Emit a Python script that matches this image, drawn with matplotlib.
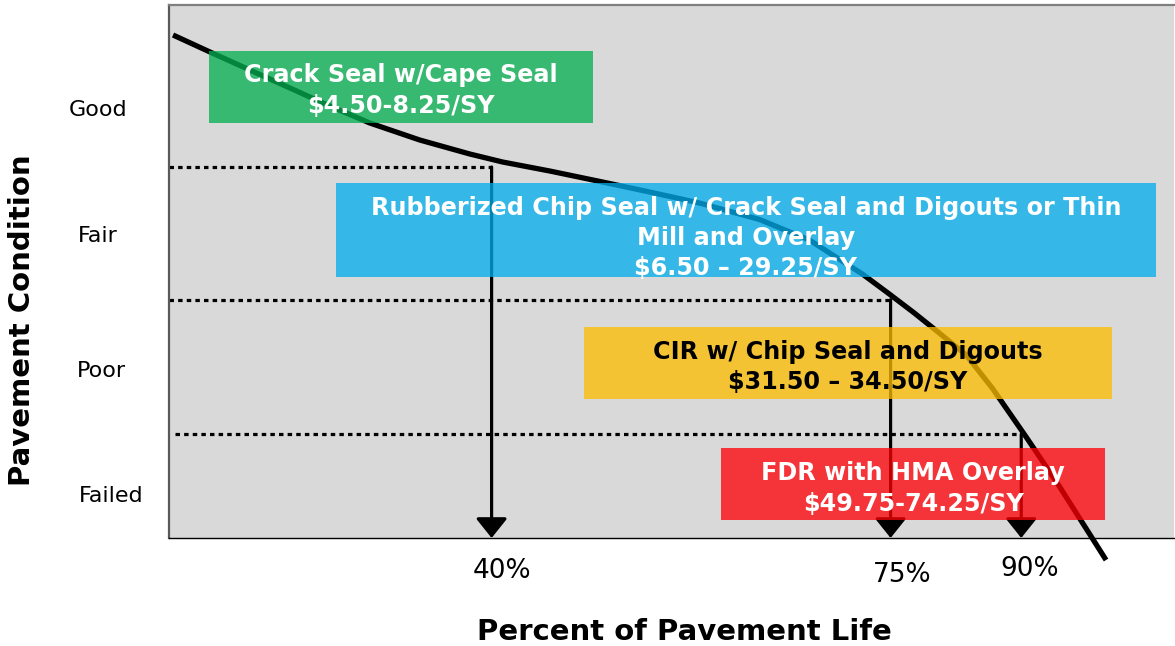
import matplotlib
matplotlib.use("Agg")
import matplotlib.pyplot as plt
from matplotlib.patches import Rectangle

# ---------------- data ----------------
# deterioration curve (x: life scale 0-100 across the plot, y: condition index 0-100)
curve_x = [0.40, 4.08, 8.05, 12.03, 16.00, 19.98, 24.95, 29.92, 33.20, 37.87, 43.14,
           47.81, 52.78, 58.75, 63.72, 68.99, 71.67, 74.16, 76.64, 79.32, 81.91,
           85.29, 88.57, 93.24]
curve_y = [94.37, 91.18, 87.80, 84.43, 81.05, 77.86, 74.67, 72.05, 70.54, 68.86, 66.79,
           64.92, 62.85, 59.76, 55.91, 49.53, 45.78, 42.21, 38.46, 34.33, 28.14,
           18.95, 9.76, -4.13]

condition_labels = ["Good", "Fair", "Poor", "Failed"]
condition_label_y = [80.3, 56.7, 31.3, 7.9]

threshold_levels = [69.6, 44.7, 19.5]      # Good/Fair, Fair/Poor, Poor/Failed
life_marks = [32.1, 71.8, 84.8]             # where the arrows drop
life_labels = ["40%", "75%", "90%"]

treatments = [
    "Crack Seal w/Cape Seal\n$4.50-8.25/SY",
    "Rubberized Chip Seal w/ Crack Seal and Digouts or Thin\nMill and Overlay\n$6.50 \u2013 29.25/SY",
    "CIR w/ Chip Seal and Digouts\n$31.50 \u2013 34.50/SY",
    "FDR with HMA Overlay\n$49.75-74.25/SY",
]

# ---------------- figure ----------------
W, H = 1175, 646
fig = plt.figure(figsize=(W / 100, H / 100), dpi=100)
ax = fig.add_axes([169 / W, 1 - 538 / H, (1174 - 169) / W, (538 - 5) / H])
ax.set_facecolor("#D9D9D9")
ax.set_xlim(0, 100)
ax.set_ylim(0, 100)
ax.set_xticks([])
ax.set_yticks([])
ax.spines["left"].set_color("#595959")
ax.spines["left"].set_linewidth(1.6)
ax.spines["top"].set_color("#7f7f7f")
ax.spines["top"].set_linewidth(1.6)
ax.spines["bottom"].set_color("black")
ax.spines["bottom"].set_linewidth(1.0)
ax.spines["right"].set_visible(False)

# dotted threshold lines
dot_start = [0, 0, 0.6]
for y0, x1, xs in zip(threshold_levels, life_marks, dot_start):
    ax.plot([xs, x1], [y0, y0], color="black", lw=2.3,
            linestyle=(0, (1.4, 1.3)), dash_capstyle="butt", zorder=2)

# arrows
for y0, x1 in zip(threshold_levels, life_marks):
    ax.annotate("", xy=(x1, 0), xytext=(x1, y0),
                arrowprops=dict(arrowstyle="-|>,head_length=0.5,head_width=0.4",
                                mutation_scale=24, lw=2.3, color="black",
                                shrinkA=0, shrinkB=0),
                zorder=3, annotation_clip=False)

# curve
ax.plot(curve_x, curve_y, color="black", lw=3.8, solid_capstyle="butt",
        solid_joinstyle="round", clip_on=False, zorder=3)

# treatment boxes (x0, x1, y0, y1), colors, text colors, text offsets
boxes = [(3.98, 42.15, 77.86, 91.37), (16.6, 98.2, 49.0, 66.6),
         (41.25, 93.84, 26.1, 39.6), (54.97, 93.14, 3.38, 16.9)]
box_colors = ["#06B052", "#02AEED", "#FDBD00", "#FD0005"]
text_colors = ["white", "white", "black", "white"]
text_dy = [-0.65, -1.5, -0.75, -0.85]
for (x0, x1, y0, y1), c, tc, t, dy in zip(boxes, box_colors, text_colors, treatments, text_dy):
    ax.add_patch(Rectangle((x0, y0), x1 - x0, y1 - y0, facecolor=c, edgecolor="none",
                           alpha=0.76, zorder=4))
    ax.text((x0 + x1) / 2, (y0 + y1) / 2 + dy, t, ha="center", va="center",
            color=tc, fontsize=17.2, fontweight="bold", linespacing=1.33, zorder=5)

# condition labels
label_x = [-7.06, -7.06, -6.76, -5.77]
for lab, y, x in zip(condition_labels, condition_label_y, label_x):
    ax.text(x, y, lab, ha="center", va="center", fontsize=16, clip_on=False)

# life labels
life_label_pos = [(33.1, -6.2), (73.0, -6.9), (85.6, -5.9)]
for lab, (x, y) in zip(life_labels, life_label_pos):
    ax.text(x, y, lab, ha="center", va="center", fontsize=19, clip_on=False)

fig.text(684 / W, 1 - 632 / H, "Percent of Pavement Life", ha="center", va="center",
         fontsize=21, fontweight="bold")
fig.text(22 / W, 1 - 320 / H, "Pavement Condition", ha="center", va="center",
         rotation=90, fontsize=21, fontweight="bold")

fig.savefig("out.png", dpi=100)
